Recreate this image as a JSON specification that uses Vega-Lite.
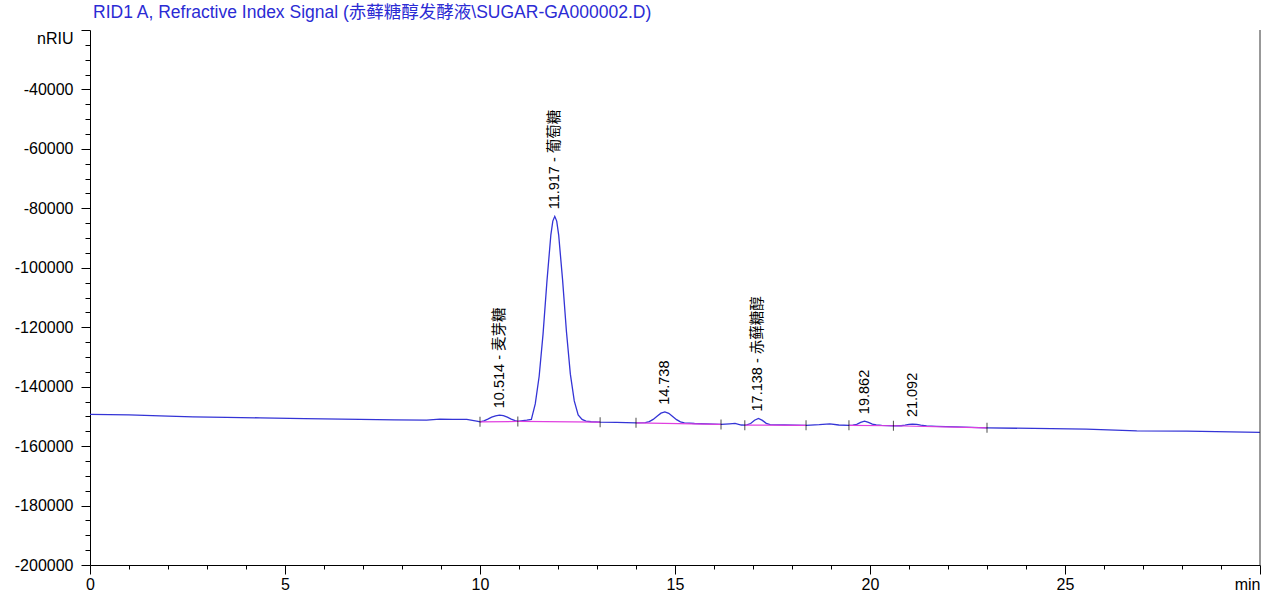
{
  "$schema": "https://vega.github.io/schema/vega-lite/v6.json",
  "width": 1170,
  "height": 535,
  "autosize": {"type": "none"},
  "padding": {"left": 90, "top": 30, "right": 5, "bottom": 28},
  "background": "white",
  "title": {
    "text": "RID1 A, Refractive Index Signal (赤藓糖醇发酵液\\SUGAR-GA000002.D)",
    "anchor": "start",
    "frame": "group",
    "offset": 8,
    "dx": 3,
    "color": "#2b2bd4",
    "font": "Liberation Sans, Noto Sans CJK SC, sans-serif",
    "fontSize": 17.5,
    "fontWeight": "normal"
  },
  "config": {
    "view": {"stroke": null},
    "font": "Liberation Sans, Noto Sans CJK SC, sans-serif",
    "axis": {
      "grid": false,
      "domainColor": "#000000",
      "tickColor": "#000000",
      "labelColor": "#000000",
      "labelFont": "Liberation Sans, sans-serif",
      "labelFontSize": 16,
      "title": null
    }
  },
  "datasets": {
    "sig": [
      {"t": 0, "v": -149300}, {"t": 1, "v": -149500}, {"t": 2, "v": -149900}, {"t": 2.64, "v": -150160},
      {"t": 3.5, "v": -150350}, {"t": 4.36, "v": -150490}, {"t": 5.5, "v": -150750}, {"t": 6.92, "v": -151030},
      {"t": 7.8, "v": -151150}, {"t": 8.63, "v": -151260}, {"t": 8.97, "v": -150950}, {"t": 9.3, "v": -151000},
      {"t": 9.66, "v": -151030}, {"t": 9.95, "v": -151700}, {"t": 10.0, "v": -151840}, {"t": 10.1, "v": -151500},
      {"t": 10.2, "v": -150900}, {"t": 10.3, "v": -150250}, {"t": 10.4, "v": -149800}, {"t": 10.5, "v": -149600},
      {"t": 10.6, "v": -149750}, {"t": 10.7, "v": -150250}, {"t": 10.8, "v": -150900}, {"t": 10.9, "v": -151450},
      {"t": 10.97, "v": -151650}, {"t": 11.1, "v": -151400}, {"t": 11.2, "v": -151250}, {"t": 11.317, "v": -151000},
      {"t": 11.417, "v": -145800}, {"t": 11.517, "v": -136490}, {"t": 11.617, "v": -122240}, {"t": 11.717, "v": -104430},
      {"t": 11.817, "v": -88910}, {"t": 11.867, "v": -84290}, {"t": 11.917, "v": -82700}, {"t": 11.967, "v": -84290},
      {"t": 12.017, "v": -88910}, {"t": 12.117, "v": -104000}, {"t": 12.217, "v": -121500}, {"t": 12.317, "v": -135800},
      {"t": 12.417, "v": -144800}, {"t": 12.517, "v": -149500}, {"t": 12.617, "v": -151000}, {"t": 12.717, "v": -151600},
      {"t": 12.85, "v": -151800}, {"t": 13.08, "v": -151950}, {"t": 13.5, "v": -152000}, {"t": 14.0, "v": -152170},
      {"t": 14.24, "v": -152100}, {"t": 14.34, "v": -151740}, {"t": 14.44, "v": -151020}, {"t": 14.54, "v": -149950},
      {"t": 14.64, "v": -148900}, {"t": 14.74, "v": -148480}, {"t": 14.84, "v": -148950}, {"t": 14.94, "v": -150000},
      {"t": 15.04, "v": -151100}, {"t": 15.14, "v": -151850}, {"t": 15.24, "v": -152200}, {"t": 15.5, "v": -152400},
      {"t": 16.0, "v": -152600}, {"t": 16.18, "v": -152700}, {"t": 16.4, "v": -152500}, {"t": 16.54, "v": -152370},
      {"t": 16.7, "v": -152900}, {"t": 16.79, "v": -152950}, {"t": 16.84, "v": -152850}, {"t": 16.94, "v": -152400},
      {"t": 17.04, "v": -151300}, {"t": 17.14, "v": -150700}, {"t": 17.24, "v": -151350}, {"t": 17.34, "v": -152350},
      {"t": 17.44, "v": -152750}, {"t": 17.8, "v": -152900}, {"t": 18.36, "v": -153000}, {"t": 18.7, "v": -152800},
      {"t": 18.97, "v": -152500}, {"t": 19.2, "v": -152900}, {"t": 19.46, "v": -153000}, {"t": 19.56, "v": -152950},
      {"t": 19.66, "v": -152650}, {"t": 19.76, "v": -152000}, {"t": 19.86, "v": -151600}, {"t": 19.96, "v": -152000},
      {"t": 20.06, "v": -152600}, {"t": 20.16, "v": -152900}, {"t": 20.3, "v": -153050}, {"t": 20.6, "v": -153150},
      {"t": 20.8, "v": -153150}, {"t": 20.9, "v": -152950}, {"t": 21.0, "v": -152700}, {"t": 21.09, "v": -152600},
      {"t": 21.2, "v": -152700}, {"t": 21.3, "v": -152950}, {"t": 21.45, "v": -153200}, {"t": 21.7, "v": -153350},
      {"t": 22.2, "v": -153550}, {"t": 23.0, "v": -153850}, {"t": 25.55, "v": -154290}, {"t": 26.84, "v": -154860},
      {"t": 28.12, "v": -154960}, {"t": 30.0, "v": -155400}
    ],
    "base": [
      {"seg": 1, "t": 10.0, "v": -151840}, {"seg": 1, "t": 10.97, "v": -151700},
      {"seg": 2, "t": 10.97, "v": -151700}, {"seg": 2, "t": 13.08, "v": -151950},
      {"seg": 3, "t": 14.0, "v": -152170}, {"seg": 3, "t": 16.18, "v": -152700},
      {"seg": 4, "t": 16.79, "v": -152950}, {"seg": 4, "t": 18.36, "v": -153000},
      {"seg": 5, "t": 19.46, "v": -153000}, {"seg": 5, "t": 20.6, "v": -153150},
      {"seg": 6, "t": 20.6, "v": -153150}, {"seg": 6, "t": 23.0, "v": -153850}
    ],
    "events": [
      {"t": 10.0, "v": -151840}, {"t": 10.97, "v": -151700}, {"t": 13.08, "v": -151950},
      {"t": 14.0, "v": -152170}, {"t": 16.18, "v": -152700}, {"t": 16.79, "v": -152950},
      {"t": 18.36, "v": -153000}, {"t": 19.46, "v": -153000}, {"t": 20.6, "v": -153150},
      {"t": 23.0, "v": -153850}
    ],
    "labels": [
      {"t": 10.514, "v": -149600, "label": "10.514 - 麦芽糖"},
      {"t": 11.917, "v": -82700, "label": "11.917 - 葡萄糖"},
      {"t": 14.738, "v": -148480, "label": "14.738"},
      {"t": 17.138, "v": -150700, "label": "17.138 - 赤藓糖醇"},
      {"t": 19.862, "v": -151600, "label": "19.862"},
      {"t": 21.092, "v": -152600, "label": "21.092"}
    ],
    "border": [{"t": 30}]
  },
  "layer": [
    {
      "data": {"name": "sig"},
      "mark": {"type": "line", "color": "#3434d6", "strokeWidth": 1.3},
      "encoding": {
        "x": {
          "field": "t", "type": "quantitative",
          "scale": {"domain": [0, 30], "nice": false, "zero": false},
          "axis": {
            "values": [0,1,2,3,4,5,6,7,8,9,10,11,12,13,14,15,16,17,18,19,20,21,22,23,24,25,26,27,28,29,30],
            "tickCount": 100,
            "labelExpr": "datum.value % 5 === 0 ? (datum.value === 30 ? 'min' : format(datum.value, 'd')) : ''",
            "labelOverlap": false,
            "labelFlush": false,
            "labelAlign": {"condition": {"test": "datum.value === 30", "value": "right"}, "value": "center"},
            "labelPadding": 2,
            "tickSize": {"condition": {"test": "datum.value % 5 === 0", "value": 9}, "value": 4},
            "title": null
          }
        },
        "y": {
          "field": "v", "type": "quantitative",
          "scale": {"domain": [-200000, -20000], "nice": false, "zero": false},
          "axis": {
            "values": [-200000,-195000,-190000,-185000,-180000,-175000,-170000,-165000,-160000,-155000,-150000,-145000,-140000,-135000,-130000,-125000,-120000,-115000,-110000,-105000,-100000,-95000,-90000,-85000,-80000,-75000,-70000,-65000,-60000,-55000,-50000,-45000,-40000,-35000,-30000,-25000,-20000],
            "tickCount": 100,
            "labelExpr": "datum.value % 20000 === 0 ? (datum.value === -20000 ? 'nRIU' : '-' + format(-datum.value, 'd')) : ''",
            "labelOverlap": false,
            "labelFlush": false,
            "labelBaseline": {"condition": {"test": "datum.value === -20000", "value": "top"}, "value": "middle"},
            "labelPadding": 8,
            "tickSize": {"condition": {"test": "datum.value % 20000 === 0", "value": 9}, "value": 5},
            "title": null
          }
        }
      }
    },
    {
      "data": {"name": "base"},
      "mark": {"type": "line", "color": "#e040e0", "strokeWidth": 1.2},
      "encoding": {
        "x": {"field": "t", "type": "quantitative"},
        "y": {"field": "v", "type": "quantitative"},
        "detail": {"field": "seg", "type": "nominal"}
      }
    },
    {
      "data": {"name": "events"},
      "mark": {"type": "tick", "orient": "vertical", "color": "#000000", "size": 10, "thickness": 1},
      "encoding": {
        "x": {"field": "t", "type": "quantitative"},
        "y": {"field": "v", "type": "quantitative"}
      }
    },
    {
      "data": {"name": "labels"},
      "mark": {"type": "text", "angle": 270, "align": "left", "baseline": "middle", "dx": 7, "fontSize": 14.5, "color": "#000000", "font": "Liberation Sans, Noto Sans CJK SC, sans-serif"},
      "encoding": {
        "x": {"field": "t", "type": "quantitative"},
        "y": {"field": "v", "type": "quantitative"},
        "text": {"field": "label", "type": "nominal"}
      }
    },
    {
      "data": {"name": "border"},
      "mark": {"type": "rule", "color": "#333333", "strokeWidth": 1},
      "encoding": {
        "x": {"field": "t", "type": "quantitative"}
      }
    }
  ]
}
